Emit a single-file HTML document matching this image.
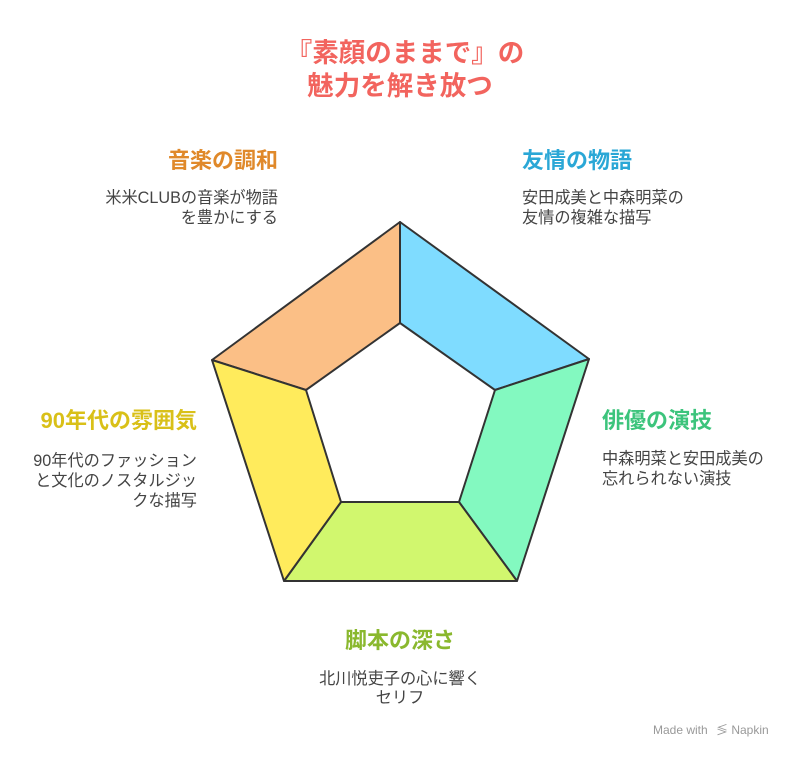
<!DOCTYPE html>
<html><head><meta charset="utf-8"><style>
html,body{margin:0;padding:0;background:#fff;}
svg{display:block;font-family:"Liberation Sans","Noto Sans CJK JP",sans-serif;}
</style></head><body>
<svg width="800" height="760" viewBox="0 0 800 760" xmlns="http://www.w3.org/2000/svg">
<g font-weight="bold" font-size="26.5" fill="#f2645e" text-anchor="middle">
<text x="405" y="62">『素顔のままで』の</text>
<text x="400" y="95">魅力を解き放つ</text>
</g>
<g stroke="#333" stroke-width="2" stroke-linejoin="round">
<polygon points="400,222 400,323 306,390 212,360" fill="#fbbf86"/>
<polygon points="400,222 589,359 495,390 400,323" fill="#7fdcff"/>
<polygon points="589,359 517,581 459,502 495,390" fill="#83f9c0"/>
<polygon points="517,581 284,581 341,502 459,502" fill="#d1f76e"/>
<polygon points="284,581 212,360 306,390 341,502" fill="#ffeb5c"/>
</g>
<g font-weight="bold" font-size="22">
<text x="278" y="168" text-anchor="end" fill="#e0892a">音楽の調和</text>
<text x="522" y="168" fill="#2aa7d6">友情の物語</text>
<text x="197" y="428" text-anchor="end" fill="#d9c018">90年代の雰囲気</text>
<text x="602" y="428" fill="#3cc47c">俳優の演技</text>
<text x="400" y="648" text-anchor="middle" fill="#8ab82e">脚本の深さ</text>
</g>
<g font-size="16.2" fill="#444">
<text x="278" y="203" text-anchor="end">米米CLUBの音楽が物語</text>
<text x="278" y="223" text-anchor="end">を豊かにする</text>
<text x="522" y="203">安田成美と中森明菜の</text>
<text x="522" y="223">友情の複雑な描写</text>
<text x="197" y="466" text-anchor="end">90年代のファッション</text>
<text x="197" y="486" text-anchor="end">と文化のノスタルジッ</text>
<text x="197" y="506" text-anchor="end">クな描写</text>
<text x="602" y="464">中森明菜と安田成美の</text>
<text x="602" y="484">忘れられない演技</text>
<text x="400" y="684" text-anchor="middle">北川悦吏子の心に響く</text>
<text x="400" y="703" text-anchor="middle">セリフ</text>
</g>
<text x="653" y="734" font-size="12" fill="#999">Made with</text>
<text x="716" y="734" font-size="12" fill="#999">≶ Napkin</text>
</svg>
</body></html>
